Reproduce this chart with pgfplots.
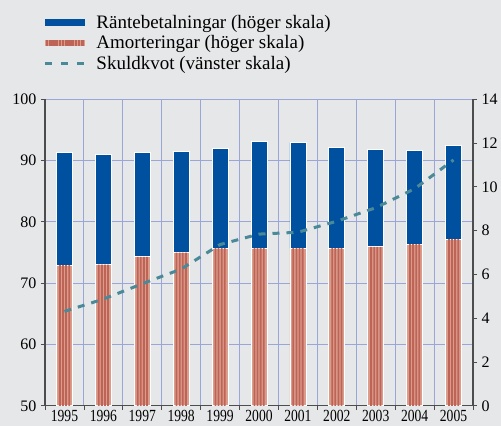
\documentclass[border=0pt]{standalone}
\usepackage{fontspec}
\setmainfont{Liberation Serif}
\usepackage{pgfplots}
\usepackage{pgfplotstable}
\pgfplotsset{compat=1.18}
\definecolor{bg}{HTML}{E6E7E8}
\definecolor{barblue}{HTML}{0050A0}
\definecolor{salmonlight}{HTML}{DB9C8C}
\definecolor{salmondark}{HTML}{BE6456}
\definecolor{linecol}{HTML}{4A8A98}
\definecolor{gridcol}{HTML}{9AA6D8}
\definecolor{axcol}{HTML}{4D4D4D}

\pgfplotstableread{
x amort rante kvot
0 6.42 5.16 65.4
1 6.45 5.01 67.4
2 6.80 4.77 69.9
3 7.00 4.61 72.3
4 7.20 4.56 76.3
5 7.20 4.87 78.0
6 7.20 4.82 78.3
7 7.20 4.61 80.1
8 7.26 4.46 82.3
9 7.38 4.29 85.4
10 7.61 4.29 90.1
}\data

\begin{document}
\begin{tikzpicture}
\fill[bg] (-45pt,-20.2pt) rectangle (456pt,405.8pt);
\pgfplotsset{base/.style={width=428pt,height=306.6pt,scale only axis,at={(0pt,0pt)},anchor=south west,
  xmin=-0.5,xmax=10.5,
  ticklabel style={font=\fontsize{16}{19}\selectfont},
  /pgf/number format/assume math mode=true,
  axis line style={axcol,line width=1.2pt},
  tick style={axcol,line width=0.8pt},
  tick align=outside, major tick length=4pt}}
% axis 1: grid, left scale, x labels
\begin{axis}[base, ymin=50, ymax=100,
  axis y line*=left, axis x line*=bottom,
  ytick={50,60,...,100},
  xtick={-0.5,0.5,...,10.5}, xticklabels={},
  grid=major, grid style={gridcol,line width=1pt},
  extra x ticks={0,1,...,10},
  extra x tick labels={1995,1996,1997,1998,1999,2000,2001,2002,2003,2004,2005},
  extra x tick style={major tick length=0pt, grid=none,
    tick label style={font=\fontsize{17}{20}\selectfont, xscale=0.8, inner sep=1pt, yshift=-3pt}},
  yticklabel style={xshift=-1pt}]
\addplot[draw=none] coordinates {(0,60)};
\end{axis}
% axis 2: bars, right scale
\begin{axis}[base, ymin=0, ymax=14,
  axis y line*=right, axis x line=none,
  ytick={0,2,...,14},
  ybar stacked, bar width=16pt,
  yticklabel style={xshift=1pt}]
\addplot[fill=salmonlight, draw=white, line width=0.8pt] table[x=x,y=amort] {\data};
\addplot[fill=barblue, draw=white, line width=0.8pt] table[x=x,y=rante] {\data};
\end{axis}
% axis 2b: stripes on the Amorteringar bars (same values)
\begin{axis}[base, ymin=0, ymax=14, hide axis, ybar, bar width=1.8pt]
\addplot[fill=salmondark, draw=none, bar shift=-4.6pt] table[x=x,y=amort] {\data};
\addplot[fill=salmondark, draw=none, bar shift=-1.5pt] table[x=x,y=amort] {\data};
\addplot[fill=salmondark, draw=none, bar shift=1.6pt] table[x=x,y=amort] {\data};
\addplot[fill=salmondark, draw=none, bar shift=4.7pt] table[x=x,y=amort] {\data};
\end{axis}
% axis 3: line, left scale, legend
\begin{axis}[base, ymin=50, ymax=100, hide axis,
  legend style={at={(-0.005,1.282)}, anchor=north west, draw=none, fill=none, inner sep=0pt,
    font=\fontsize{19}{21}\selectfont, row sep=2pt, cells={anchor=west}},
  legend cell align=left,
  /tikz/every odd column/.append style={column sep=9pt}]
\addlegendimage{legend image code/.code={\fill[barblue] (0pt,-3.4pt) rectangle (39pt,3.4pt);}}
\addlegendentry{Räntebetalningar (höger skala)}
\addlegendimage{legend image code/.code={\fill[salmonlight] (0pt,-2.6pt) rectangle (39pt,2.6pt);
  \foreach \i in {1.2,4.4,...,37} {\fill[salmondark] (\i pt,-2.6pt) rectangle ++(1.6pt,5.2pt);}}}
\addlegendentry{Amorteringar (höger skala)}
\addplot[linecol, line width=3pt, dash pattern=on 7pt off 7pt,
  legend image code/.code={\draw[linecol,line width=3.4pt,dash pattern=on 7pt off 9pt] (0pt,0pt) -- (39pt,0pt);}]
  table[x=x,y=kvot] {\data};
\addlegendentry{Skuldkvot (vänster skala)}
\end{axis}
\pgfresetboundingbox
\path[use as bounding box] (-45pt,-20.2pt) rectangle (456pt,405.8pt);
\end{tikzpicture}
\end{document}
